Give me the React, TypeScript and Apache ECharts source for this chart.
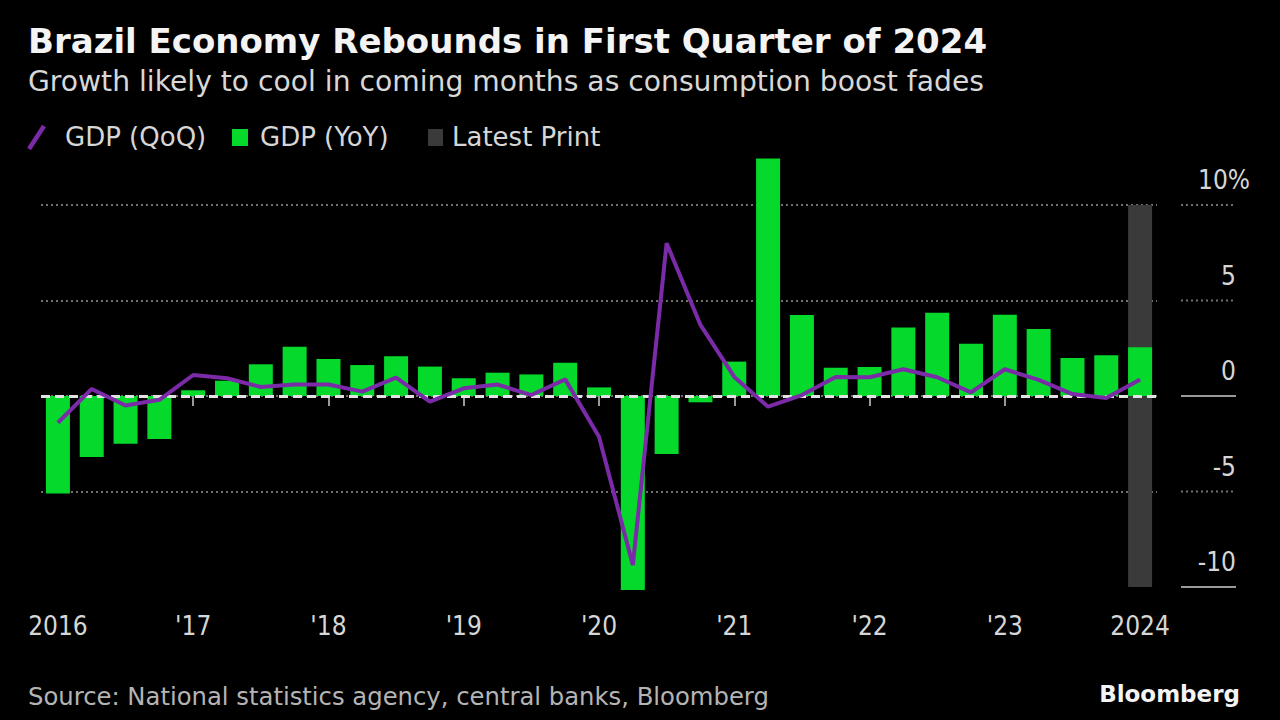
import React, { useEffect, useRef } from "react";
import * as echarts from "echarts";

const quarters = [
  "2016Q1", "2016Q2", "2016Q3", "2016Q4",
  "2017Q1", "2017Q2", "2017Q3", "2017Q4",
  "2018Q1", "2018Q2", "2018Q3", "2018Q4",
  "2019Q1", "2019Q2", "2019Q3", "2019Q4",
  "2020Q1", "2020Q2", "2020Q3", "2020Q4",
  "2021Q1", "2021Q2", "2021Q3", "2021Q4",
  "2022Q1", "2022Q2", "2022Q3", "2022Q4",
  "2023Q1", "2023Q2", "2023Q3", "2023Q4",
  "2024Q1",
];

const gdpYoY = [
  -5.1, -3.2, -2.5, -2.25,
  0.3, 0.8, 1.66, 2.58,
  1.94, 1.62, 2.08, 1.54,
  0.93, 1.22, 1.13, 1.74,
  0.45, -10.16, -3.04, -0.33,
  1.8, 12.44, 4.24, 1.48,
  1.52, 3.58, 4.36, 2.74,
  4.26, 3.51, 1.99, 2.13,
  2.55,
];

const gdpQoQ = [
  -1.4, 0.37, -0.5, -0.2,
  1.1, 0.93, 0.47, 0.6,
  0.6, 0.23, 0.96, -0.3,
  0.4, 0.6, 0.05, 0.87,
  -2.13, -8.85, 8.0, 3.72,
  1.0, -0.56, 0.05, 1.0,
  0.98, 1.4, 0.98, 0.19,
  1.4, 0.84, 0.1, -0.1,
  0.87,
];

const latestPrintTop = 10;
const latestPrintBottom = -10;

const yearLabels = ["2016", "'17", "'18", "'19", "'20", "'21", "'22", "'23", "2024"];
const yTicks = [10, 5, 0, -5, -10];

const FONT = "'DejaVu Sans Condensed', 'DejaVu Sans', sans-serif";
const WIDE = "'DejaVu Sans', sans-serif";
const GREEN = "#05d92b";
const PURPLE = "#7b2aa8";
const GRAY_BAND = "#3a3a3a";
const GRID_DOT = "#707070";

export default function App() {
  const ref = useRef<HTMLDivElement>(null);

  useEffect(() => {
    if (!ref.current) return;
    const chart = echarts.init(ref.current, null, { renderer: "svg" });
    const last = quarters.length - 1;
    const latestUp = quarters.map((_, i) => (i === last ? latestPrintTop : null));
    const latestDown = quarters.map((_, i) => (i === last ? latestPrintBottom : null));

    chart.setOption({
      animation: false,
      backgroundColor: "#000000",
      textStyle: { fontFamily: FONT },
      grid: { left: 41, right: 123, top: 205, bottom: 133, containLabel: false },
      xAxis: {
        type: "category",
        data: quarters,
        boundaryGap: true,
        axisLine: { show: false },
        axisTick: {
          show: true,
          alignWithLabel: true,
          interval: (i: number) => i % 4 === 0,
          length: 10,
          lineStyle: { color: "#9a9a9a", width: 2 },
        },
        axisLabel: {
          interval: (i: number) => i % 4 === 0,
          formatter: (_v: string, i: number) => yearLabels[Math.floor(i / 4)],
          color: "#d6d6d6",
          fontSize: 26,
          fontFamily: FONT,
          margin: 26,
        },
        splitLine: { show: false },
      },
      yAxis: {
        type: "value",
        position: "right",
        min: -10,
        max: 10,
        interval: 5,
        axisLine: { show: false },
        axisTick: { show: false },
        axisLabel: {
          align: "right",
          verticalAlign: "bottom",
          margin: 93,
          padding: [0, 0, 12, 0],
          color: "#d6d6d6",
          fontSize: 26,
          fontFamily: FONT,
          formatter: (v: number) => (v === 10 ? "{w|10%}" : "{n|" + v + "}"),
          rich: {
            n: { fontSize: 26, color: "#d6d6d6", fontFamily: FONT, padding: [0, 14, 0, 0] },
            w: { fontSize: 26, color: "#d6d6d6", fontFamily: FONT },
          },
        },
        splitLine: {
          show: true,
          showMinLine: false,
          lineStyle: { color: GRID_DOT, type: [2, 3], width: 2 },
        },
      },
      series: [
        {
          name: "Latest Print",
          type: "bar",
          stack: "latest",
          data: latestUp,
          barWidth: 24,
          barGap: "-100%",
          itemStyle: { color: GRAY_BAND },
          z: 1,
          clip: false,
        },
        {
          name: "Latest Print",
          type: "bar",
          stack: "latest",
          data: latestDown,
          barWidth: 24,
          barGap: "-100%",
          itemStyle: { color: GRAY_BAND },
          z: 1,
          clip: false,
        },
        {
          name: "GDP (YoY)",
          type: "bar",
          data: gdpYoY,
          barWidth: 24,
          barGap: "-100%",
          itemStyle: { color: GREEN },
          z: 2,
          clip: false,
          markLine: {
            silent: true,
            symbol: "none",
            label: { show: false },
            lineStyle: { color: "#e2e2e2", type: [9, 5], width: 3 },
            data: [{ yAxis: 0 }],
            z: 3,
          },
        },
        {
          name: "GDP (QoQ)",
          type: "line",
          data: gdpQoQ,
          symbol: "none",
          lineStyle: { color: PURPLE, width: 4 },
          z: 4,
          clip: false,
        },
      ],
    });

    const rightX1 = 1181;
    const rightX2 = 1236;
    const segs = yTicks.map((v, k) => {
      const y = chart.convertToPixel({ yAxisIndex: 0 }, v) as number;
      const solid = v === 0 || v === -10;
      return {
        type: "line",
        id: "seg" + k,
        shape: { x1: rightX1, y1: y, x2: rightX2, y2: y },
        style: solid
          ? { stroke: "#9a9a9a", lineWidth: 2 }
          : { stroke: GRID_DOT, lineWidth: 2, lineDash: [2, 3] },
        silent: true,
      };
    });

    const txt = (id: string, text: string, x: number, y: number, font: string, fill: string, align = "left") => ({
      type: "text",
      id,
      x,
      y,
      silent: true,
      style: { text, font, fill, align, verticalAlign: "middle" },
    });

    chart.setOption({
      graphic: [
        ...segs,
        txt("title", "Brazil Economy Rebounds in First Quarter of 2024", 28, 41, `bold 34px ${WIDE}`, "#f4f4f4"),
        txt("subtitle", "Growth likely to cool in coming months as consumption boost fades", 28, 81, `28.2px ${WIDE}`, "#d8d8d8"),
        {
          type: "line",
          id: "lg1",
          shape: { x1: 29, y1: 149, x2: 44, y2: 126 },
          style: { stroke: PURPLE, lineWidth: 4.5 },
          silent: true,
        },
        txt("lgt1", "GDP (QoQ)", 65, 137, `26px ${WIDE}`, "#d6d6d6"),
        { type: "rect", id: "lg2", shape: { x: 232, y: 129, width: 16, height: 17 }, style: { fill: GREEN }, silent: true },
        txt("lgt2", "GDP (YoY)", 260, 137, `26px ${WIDE}`, "#d6d6d6"),
        { type: "rect", id: "lg3", shape: { x: 428, y: 129, width: 15, height: 17 }, style: { fill: GRAY_BAND }, silent: true },
        txt("lgt3", "Latest Print", 452, 137, `26px ${WIDE}`, "#d6d6d6"),
        txt("source", "Source: National statistics agency, central banks, Bloomberg", 28, 696, `24.3px ${WIDE}`, "#b4b4b4"),
        txt("brand", "Bloomberg", 1240, 694, `bold 23px ${WIDE}`, "#f4f4f4", "right"),
      ],
    });

    return () => chart.dispose();
  }, []);

  return (
    <div
      ref={ref}
      style={{ position: "absolute", left: 0, top: 0, width: 1280, height: 720, background: "#000" }}
    />
  );
}
